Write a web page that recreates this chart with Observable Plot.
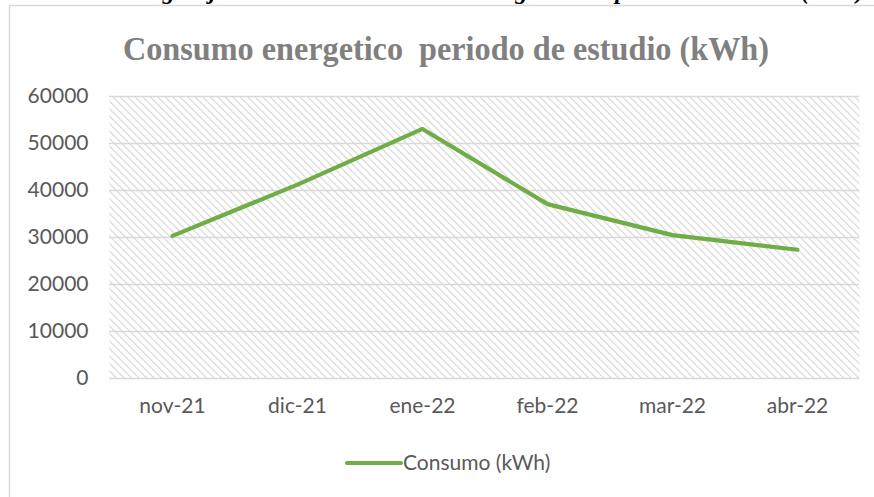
<!DOCTYPE html>
<html>
<head>
<meta charset="utf-8">
<script src="https://cdn.jsdelivr.net/npm/d3@7"></script>
<script src="https://cdn.jsdelivr.net/npm/@observablehq/plot@0.6"></script>
<style>
  html, body { margin: 0; padding: 0; background: #fff; }
  #chart { width: 874px; height: 497px; overflow: hidden; }
</style>
</head>
<body>
<svg width="0" height="0" style="position:absolute">
  <defs>
    <pattern id="hatch" width="5.3" height="5.3" patternUnits="userSpaceOnUse" patternTransform="rotate(-45)">
      <rect width="5.3" height="5.3" fill="#ffffff"></rect>
      <line x1="0.6" y1="0" x2="0.6" y2="5.3" stroke="#d4d4d4" stroke-width="1.1"></line>
    </pattern>
  </defs>
</svg>
<div id="chart"></div>
<script>
const months = ["nov-21", "dic-21", "ene-22", "feb-22", "mar-22", "abr-22"];
const consumo = [30350, 41250, 53100, 37100, 30500, 27400];
const yTicks = [0, 10000, 20000, 30000, 40000, 50000, 60000];
const titleText = "Consumo energetico  periodo de estudio (kWh)";
const seriesName = "Consumo (kWh)";
const captionText = "Comportamiento de la granja en relación al consumo energetico del periodo de estudio (kWh)";

const data = months.map((m, i) => ({month: m, value: consumo[i]}));

const W = 874, H = 497;
const plot = Plot.plot({
  width: W,
  height: H,
  marginLeft: 109,
  marginRight: 15,
  marginTop: 96,
  marginBottom: 119,
  style: {fontFamily: "Lato, sans-serif", fontSize: "21px", color: "#595959", background: "#fff"},
  x: {type: "point", domain: months, padding: 0.5, label: null},
  y: {domain: [0, 60000], ticks: yTicks, label: null},
  marks: [
    Plot.frame({fill: "url(#hatch)", stroke: null}),
    Plot.ruleY(yTicks, {stroke: "#d9d9d9", strokeWidth: 1.5}),
    Plot.axisY({ticks: yTicks, tickSize: 0, tickPadding: 21, tickFormat: d => String(d), fill: "#595959", label: null}),
    Plot.axisX({tickSize: 0, tickPadding: 20, fill: "#595959", label: null}),
    Plot.line(data, {x: "month", y: "value", stroke: "#70ad47", strokeWidth: 4.2, curve: "linear", strokeLinecap: "round", strokeLinejoin: "round"})
  ]
});
document.getElementById("chart").appendChild(plot);

const svg = d3.select(plot);
// outer chart border
svg.append("rect").attr("x", 9.5).attr("y", 5.5).attr("width", 1000).attr("height", 1000)
  .attr("fill", "none").attr("stroke", "#d9d9d9").attr("stroke-width", 1.5);
// clipped document caption above chart (only descenders visible, as in the reference)
svg.append("text").attr("x", 864).attr("y", -1).attr("text-anchor", "end")
  .attr("font-family", "'Liberation Serif', serif").attr("font-style", "italic").attr("font-weight", "bold")
  .attr("font-size", 24).attr("fill", "#000").text(captionText);
// title
svg.append("text").attr("x", 446).attr("y", 60).attr("text-anchor", "middle")
  .attr("font-family", "'Liberation Serif', serif").attr("font-weight", "bold")
  .attr("font-size", 33).attr("textLength", 646).attr("lengthAdjust", "spacingAndGlyphs")
  .attr("fill", "#808080").text(titleText);
// legend
svg.append("line").attr("x1", 347).attr("x2", 401).attr("y1", 463).attr("y2", 463)
  .attr("stroke", "#70ad47").attr("stroke-width", 4.2).attr("stroke-linecap", "round");
svg.append("text").attr("x", 403).attr("y", 470).attr("text-anchor", "start").attr("font-family", "Lato, sans-serif")
  .attr("font-size", 21).attr("fill", "#595959").text(seriesName);
</script>
</body>
</html>
